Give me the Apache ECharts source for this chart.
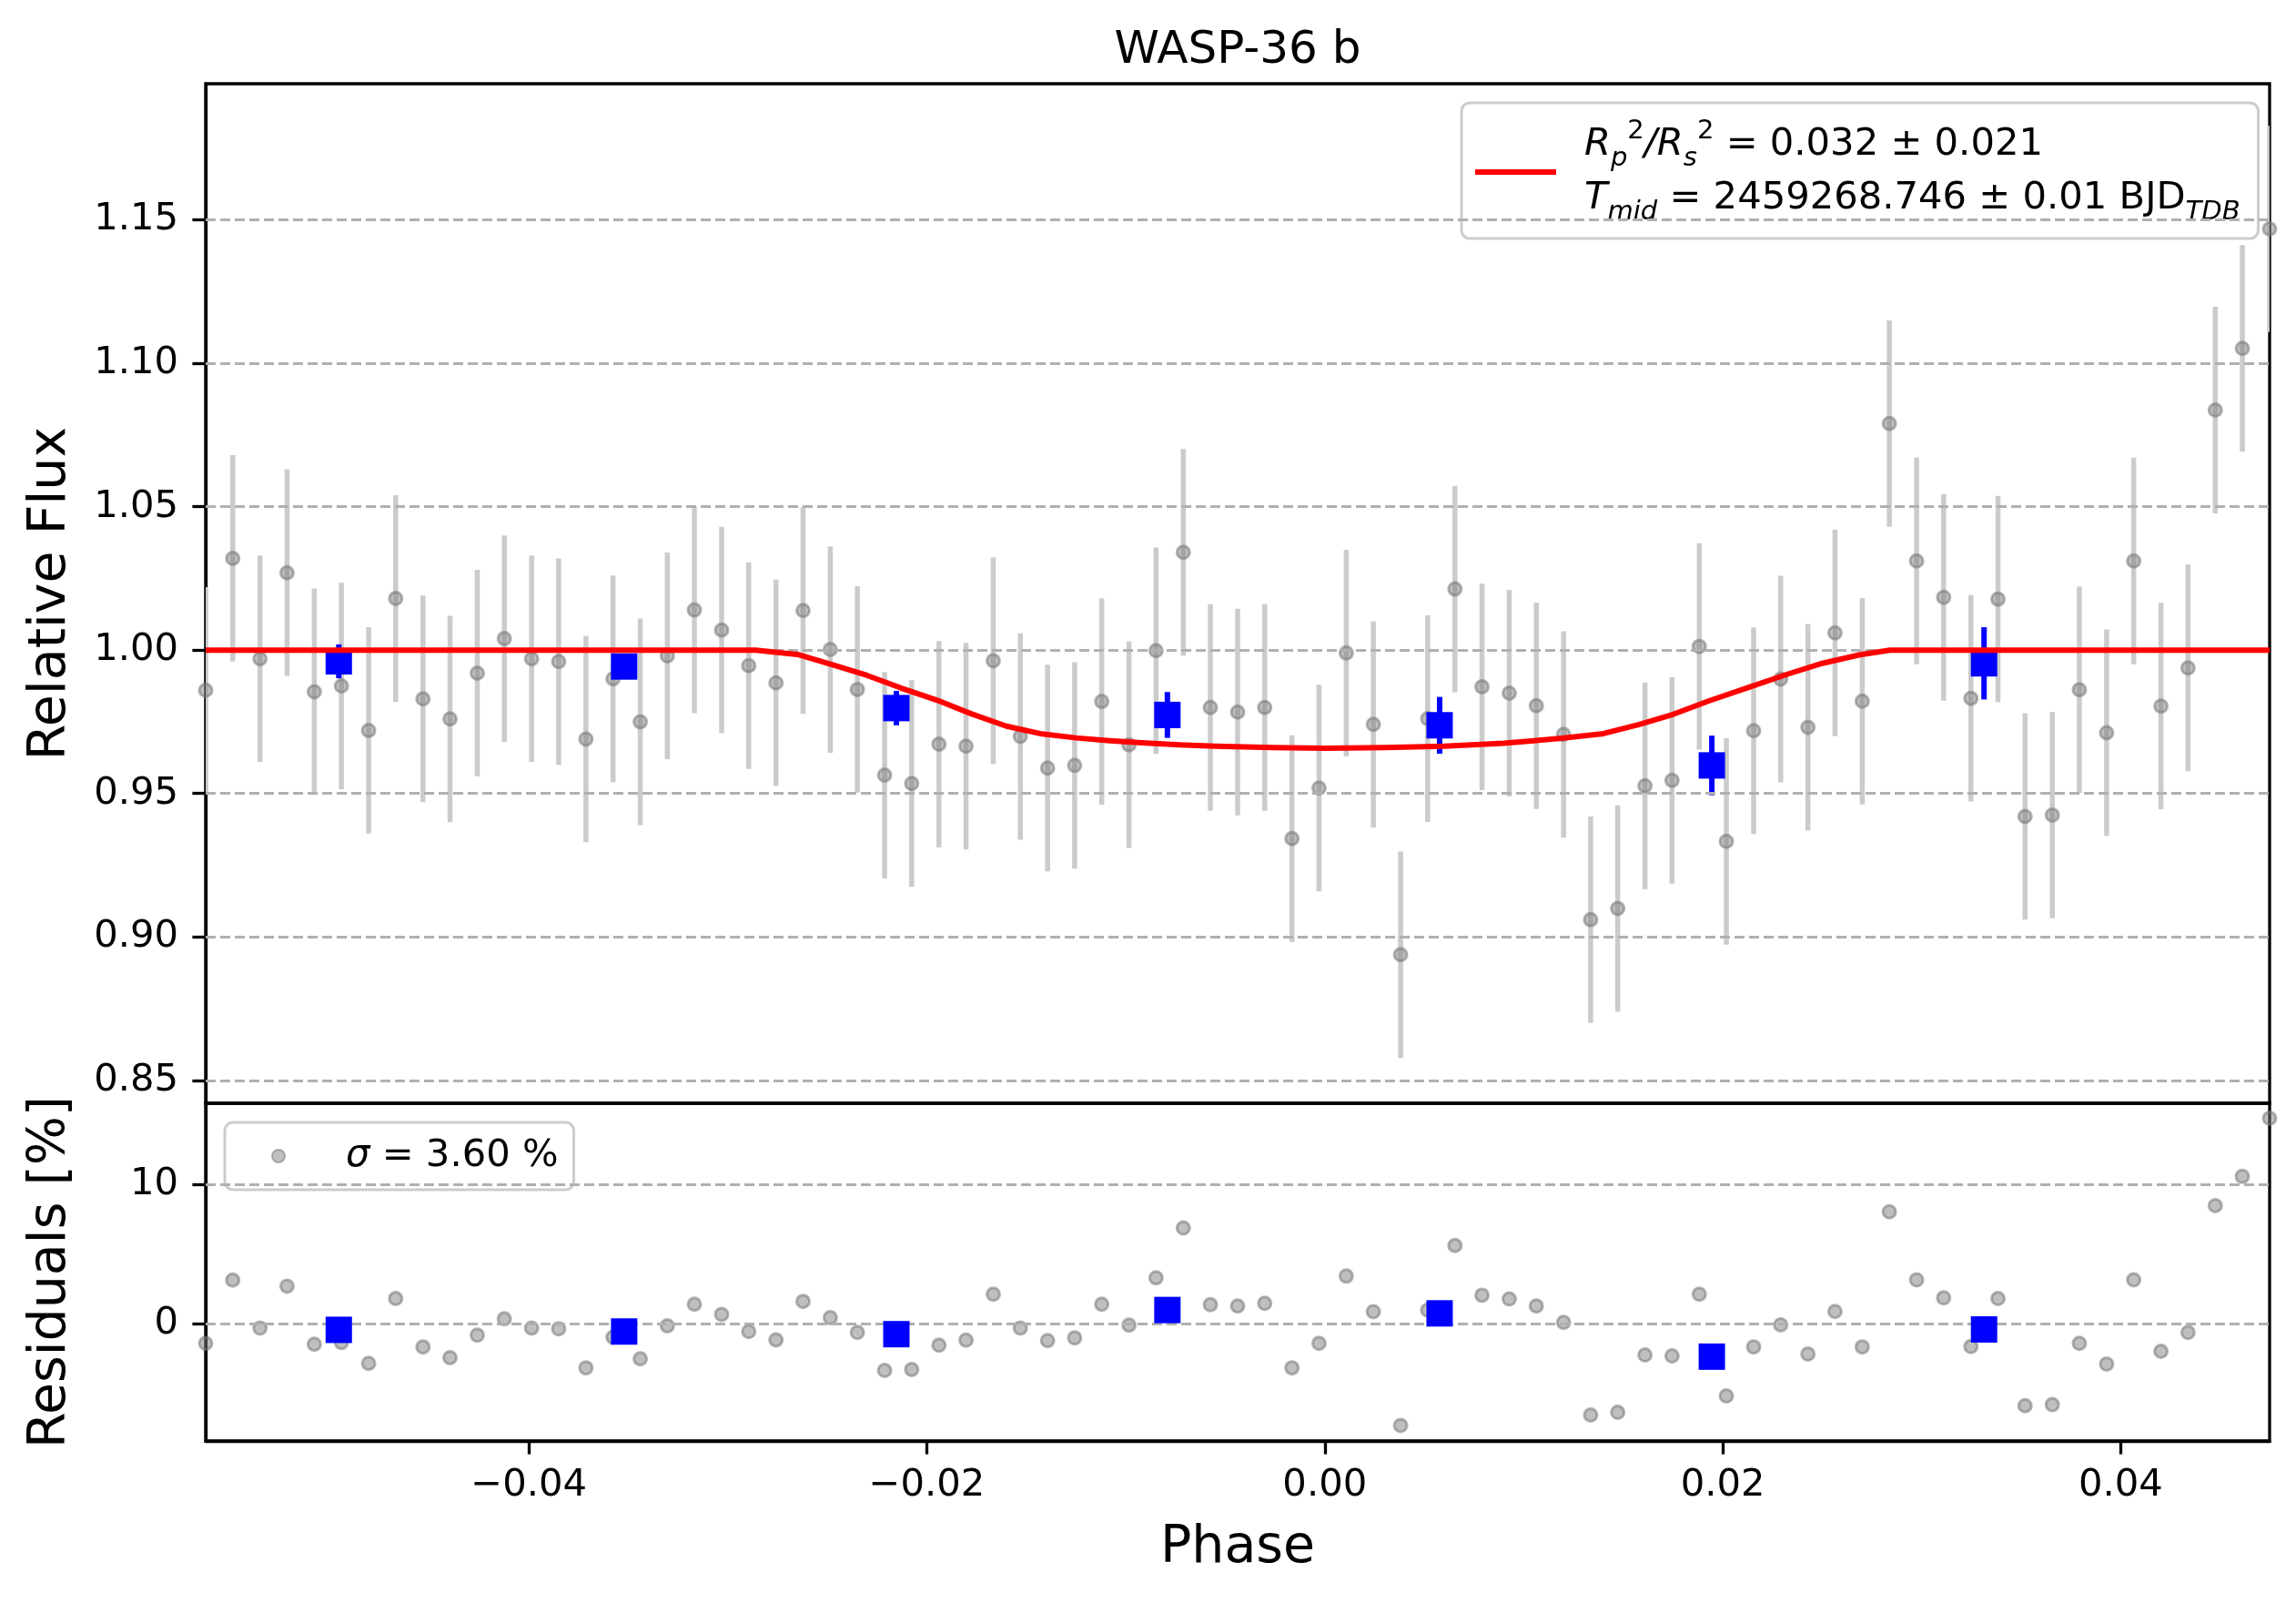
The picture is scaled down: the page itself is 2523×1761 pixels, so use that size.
<!DOCTYPE html>
<html><head><meta charset="utf-8">
<script src="https://cdn.jsdelivr.net/npm/echarts@6/dist/echarts.min.js"></script>
<style>html,body{margin:0;padding:0;background:#fff}#c{width:2523px;height:1761px}</style>
</head><body><div id="c"></div>
<script>
const phase = [-0.05624,-0.05488,-0.05351,-0.05215,-0.05078,-0.04942,-0.04805,-0.04669,-0.04532,-0.04396,
 -0.04259,-0.04123,-0.03986,-0.03850,-0.03713,-0.03577,-0.03440,-0.03304,-0.03168,-0.03031,
 -0.02895,-0.02758,-0.02622,-0.02485,-0.02349,-0.02212,-0.02076,-0.01939,-0.01803,-0.01666,
 -0.01530,-0.01393,-0.01257,-0.01121,-0.00984,-0.00848,-0.00711,-0.00575,-0.00438,-0.00302,
 -0.00165,-0.00029,0.00108,0.00244,0.00381,0.00517,0.00654,0.00790,0.00927,0.01063,
 0.01200,0.01336,0.01472,0.01609,0.01745,0.01882,0.02018,0.02155,0.02291,0.02428,
 0.02564,0.02701,0.02837,0.02974,0.03110,0.03247,0.03383,0.03519,0.03656,0.03792,
 0.03929,0.04065,0.04202,0.04338,0.04475,0.04611,0.04748];
const flux = [0.986,1.032,0.997,1.027,0.9855,0.9875,0.972,1.018,0.983,0.976,
 0.992,1.004,0.997,0.996,0.969,0.990,0.975,0.998,1.014,1.007,
 0.9946,0.9886,1.0138,1.0002,0.9863,0.9564,0.9535,0.9672,0.9665,0.9963,
 0.9699,0.9589,0.9598,0.9821,0.9670,0.9998,1.0341,0.9800,0.9784,0.9800,
 0.9343,0.9519,0.9990,0.9741,0.8938,0.9761,1.0213,0.9872,0.9850,0.9806,
 0.9706,0.9060,0.9099,0.9527,0.9546,1.0013,0.9333,0.9719,0.9899,0.9731,
 1.0060,0.9822,1.0790,1.0311,1.0184,0.9832,1.0178,0.9420,0.9425,0.9862,
 0.9712,1.0311,0.9805,0.9938,1.0837,1.1052,1.1469];
const fluxErr = [0.036,0.036,0.036,0.036,0.036,0.036,0.036,0.036,0.036,0.036,
 0.036,0.036,0.036,0.036,0.036,0.036,0.036,0.036,0.036,0.036,
 0.036,0.036,0.036,0.036,0.036,0.036,0.036,0.036,0.036,0.036,
 0.036,0.036,0.036,0.036,0.036,0.036,0.036,0.036,0.036,0.036,
 0.036,0.036,0.036,0.036,0.036,0.036,0.036,0.036,0.036,0.036,
 0.036,0.036,0.036,0.036,0.036,0.036,0.036,0.036,0.036,0.036,
 0.036,0.036,0.036,0.036,0.036,0.036,0.036,0.036,0.036,0.036,
 0.036,0.036,0.036,0.036,0.036,0.036,0.036];
const resid = [-1.37,3.15,-0.29,2.72,-1.44,-1.32,-2.81,1.83,-1.63,-2.40,
 -0.79,0.38,-0.29,-0.34,-3.13,-0.94,-2.48,-0.12,1.42,0.70,
 -0.53,-1.13,1.63,0.46,-0.60,-3.32,-3.25,-1.51,-1.15,2.14,
 -0.29,-1.18,-0.99,1.42,-0.07,3.32,6.88,1.39,1.30,1.49,
 -3.13,-1.37,3.44,0.89,-7.26,1.01,5.63,2.07,1.80,1.30,
 0.12,-6.51,-6.32,-2.21,-2.28,2.14,-5.14,-1.63,-0.05,-2.14,
 0.91,-1.63,8.05,3.17,1.88,-1.61,1.83,-5.84,-5.77,-1.37,
 -2.86,3.17,-1.95,-0.60,8.49,10.58,14.74];
const binPhase = [-0.04955,-0.03521,-0.02153,-0.00791,0.00577,0.01945,0.03313];
const binFlux = [0.9961,0.9943,0.9798,0.9774,0.9738,0.9598,0.9954];
const binErr = [0.0059,0.0040,0.0060,0.0080,0.0099,0.0104,0.0126];
const binResid = [-0.41,-0.53,-0.72,1.01,0.77,-2.33,-0.38];
const modelPhase = [-0.05624,-0.0286,-0.0265,-0.0248,-0.0230,-0.0213,-0.0195,-0.0178,-0.0160,-0.0143,
 -0.0125,-0.0108,-0.0090,-0.0073,-0.0055,-0.0026,0.0000,0.0030,0.0060,0.0090,
 0.0105,0.0119,0.0140,0.0158,0.0175,0.0193,0.0213,0.0232,0.0250,0.0269,0.0284,0.04748];
const modelFlux = [1.0,1.0,0.9985,0.9950,0.9912,0.9868,0.9826,0.9779,0.9735,0.9709,
 0.9694,0.9684,0.9676,0.9670,0.9665,0.9660,0.9658,0.9660,0.9665,0.9675,
 0.9684,0.9693,0.9709,0.9741,0.9776,0.9823,0.9870,0.9915,0.9954,0.9984,1.0,1.0];
const fluxTicks = [0.85,0.90,0.95,1.00,1.05,1.10,1.15];
const residTicks = [0,10];
const phaseTicks = [-0.04,-0.02,0.00,0.02,0.04];
const phaseRange = [-0.05624, 0.04748];
const fluxRange = [0.842, 1.1975];
const residRange = [-8.37, 15.82];

const F = 'DejaVu Sans';
const chart = echarts.init(document.getElementById('c'), null, {renderer:'canvas', width:2523, height:1761});

const zip = (a, b) => a.map((v, i) => [v, b[i]]);
function errBars(xs, ys, es, color, width, xi, yi, z) {
  return {
    type: 'custom', xAxisIndex: xi, yAxisIndex: yi, z: z, silent: true, clip: true,
    data: xs.map((x, i) => [x, ys[i] - es[i], ys[i] + es[i]]),
    encode: {x: 0, y: [1, 2]},
    renderItem: (params, api) => {
      const p1 = api.coord([api.value(0), api.value(1)]);
      const p2 = api.coord([api.value(0), api.value(2)]);
      return {type: 'line', shape: {x1: p1[0], y1: p1[1], x2: p2[0], y2: p2[1]},
        style: {stroke: color, lineWidth: width}};
    }
  };
}
function gridLines(vals, xi, yi) {
  return {
    type: 'line', xAxisIndex: xi, yAxisIndex: yi, data: [], z: 0, silent: true,
    markLine: {silent: true, symbol: ['none', 'none'], label: {show: false}, animation: false,
      lineStyle: {color: '#b0b0b0', type: [11, 5], width: 3},
      emphasis: {disabled: true},
      data: vals.map(v => ({yAxis: v}))}
  };
}
const tickStyle = {show: true, length: 14.6, inside: false, lineStyle: {color: '#000', width: 3.3}};
const axisLine = {show: true, onZero: false, lineStyle: {color: '#000', width: 3.3}};
const labelBase = {fontFamily: F, fontSize: 41.7, color: '#000'};
const nameStyle = {fontFamily: F, fontSize: 57, color: '#000'};
const fmtPhase = v => (Math.abs(v) < 1e-9 ? '0.00' : (v < 0 ? '\u2212' : '') + Math.abs(v).toFixed(2));
const grayPt = {color: 'rgba(128,128,128,0.5)', borderColor: 'rgba(120,120,120,0.55)', borderWidth: 3, opacity: 1};

const option = {
  animation: false,
  backgroundColor: '#fff',
  title: {text: 'WASP-36 b', left: 1360, top: 31, textAlign: 'center', padding: 0,
    textStyle: {fontFamily: F, fontSize: 50, fontWeight: 'normal', color: '#000'}},
  grid: [
    {left: 226, right: 29, top: 92, height: 1120, show: true, borderColor: '#000', borderWidth: 3.3, backgroundColor: 'transparent'},
    {left: 226, right: 29, top: 1212, height: 371, show: true, borderColor: '#000', borderWidth: 3.3, backgroundColor: 'transparent'}
  ],
  xAxis: [
    {type: 'value', gridIndex: 0, min: phaseRange[0], max: phaseRange[1],
      axisLine: {show: false, onZero: false}, axisTick: {show: false}, axisLabel: {show: false}, splitLine: {show: false}},
    {type: 'value', gridIndex: 1, min: phaseRange[0], max: phaseRange[1],
      axisLine: axisLine, axisTick: Object.assign({customValues: phaseTicks}, tickStyle),
      axisLabel: Object.assign({customValues: phaseTicks, margin: 28, formatter: fmtPhase}, labelBase),
      splitLine: {show: false},
      name: 'Phase', nameLocation: 'middle', nameGap: 90, nameTextStyle: nameStyle}
  ],
  yAxis: [
    {type: 'value', gridIndex: 0, min: fluxRange[0], max: fluxRange[1],
      axisLine: axisLine, axisTick: Object.assign({customValues: fluxTicks}, tickStyle),
      axisLabel: Object.assign({customValues: fluxTicks, margin: 30, formatter: v => v.toFixed(2)}, labelBase),
      splitLine: {show: false},
      name: 'Relative Flux', nameLocation: 'middle', nameGap: 141, nameTextStyle: nameStyle},
    {type: 'value', gridIndex: 1, min: residRange[0], max: residRange[1],
      axisLine: axisLine, axisTick: Object.assign({customValues: residTicks}, tickStyle),
      axisLabel: Object.assign({customValues: residTicks, margin: 30, formatter: v => String(Math.round(v))}, labelBase),
      splitLine: {show: false},
      name: 'Residuals [%]', nameLocation: 'middle', nameGap: 141, nameTextStyle: nameStyle}
  ],
  legend: [
    {data: [{name: 'model', icon: 'rect'}], orient: 'vertical', left: 1606, top: 113,
      itemWidth: 89, itemHeight: 6, selectedMode: false,
      padding: [17, 20, 14, 15],
      backgroundColor: 'rgba(255,255,255,0.8)', borderColor: '#cccccc', borderWidth: 3, borderRadius: 9,
      formatter: () => '{i|R}{sb|p}{sp|2}{i|/R}{sb|s}{sp|2}{n| = 0.032 \u00b1 0.021}\n{i|T}{sb|mid}{n| = 2459268.746 \u00b1 0.01 BJD}{sb|TDB}',
      textStyle: {fontFamily: F, fontSize: 41.7, color: '#000', padding: [0, 0, 0, 26],
        rich: {
          n: {fontFamily: F, fontSize: 41.7, color: '#000', lineHeight: 59},
          i: {fontFamily: F, fontSize: 41.7, fontStyle: 'italic', color: '#000', lineHeight: 59},
          sb: {fontFamily: F, fontSize: 29, fontStyle: 'italic', color: '#000', verticalAlign: 'bottom', lineHeight: 43},
          sp: {fontFamily: F, fontSize: 29, color: '#000', verticalAlign: 'top', lineHeight: 35}
        }}},
    {data: [{name: 'resid', icon: 'circle'}], orient: 'vertical', left: 247, top: 1233,
      itemWidth: 14, itemHeight: 14, selectedMode: false,
      padding: [16, 17, 16, 51],
      backgroundColor: 'rgba(255,255,255,0.8)', borderColor: '#cccccc', borderWidth: 3, borderRadius: 9,
      formatter: () => '{i|\u03c3}{n| = 3.60 %}',
      textStyle: {fontFamily: F, fontSize: 41.7, color: '#000', padding: [0, 0, 0, 62],
        rich: {
          n: {fontFamily: F, fontSize: 41.7, color: '#000'},
          i: {fontFamily: F, fontSize: 41.7, fontStyle: 'italic', color: '#000'}
        }}}
  ],
  series: [
    gridLines(fluxTicks, 0, 0),
    gridLines(residTicks, 1, 1),
    errBars(phase, flux, fluxErr, '#cbcbcb', 5.5, 0, 0, 2),
    {type: 'scatter', name: 'data', xAxisIndex: 0, yAxisIndex: 0, z: 3, silent: true,
      data: zip(phase, flux), symbol: 'circle', symbolSize: 14, itemStyle: grayPt},
    errBars(binPhase, binFlux, binErr, '#0000ff', 6, 0, 0, 4),
    {type: 'scatter', name: 'binned', xAxisIndex: 0, yAxisIndex: 0, z: 5, silent: true,
      data: zip(binPhase, binFlux), symbol: 'rect', symbolSize: 29, itemStyle: {color: '#0000ff', opacity: 1}},
    {type: 'line', name: 'model', xAxisIndex: 0, yAxisIndex: 0, z: 6, silent: true,
      data: zip(modelPhase, modelFlux), showSymbol: false, symbol: 'none', smooth: false,
      lineStyle: {color: '#ff0000', width: 6, join: 'round'}, itemStyle: {color: '#ff0000'}},
    {type: 'scatter', name: 'resid', xAxisIndex: 1, yAxisIndex: 1, z: 3, silent: true,
      data: zip(phase, resid), symbol: 'circle', symbolSize: 14, itemStyle: grayPt},
    {type: 'scatter', name: 'binresid', xAxisIndex: 1, yAxisIndex: 1, z: 5, silent: true,
      data: zip(binPhase, binResid), symbol: 'rect', symbolSize: 29, itemStyle: {color: '#0000ff', opacity: 1}}
  ]
};
chart.setOption(option);
</script>
</body></html>
